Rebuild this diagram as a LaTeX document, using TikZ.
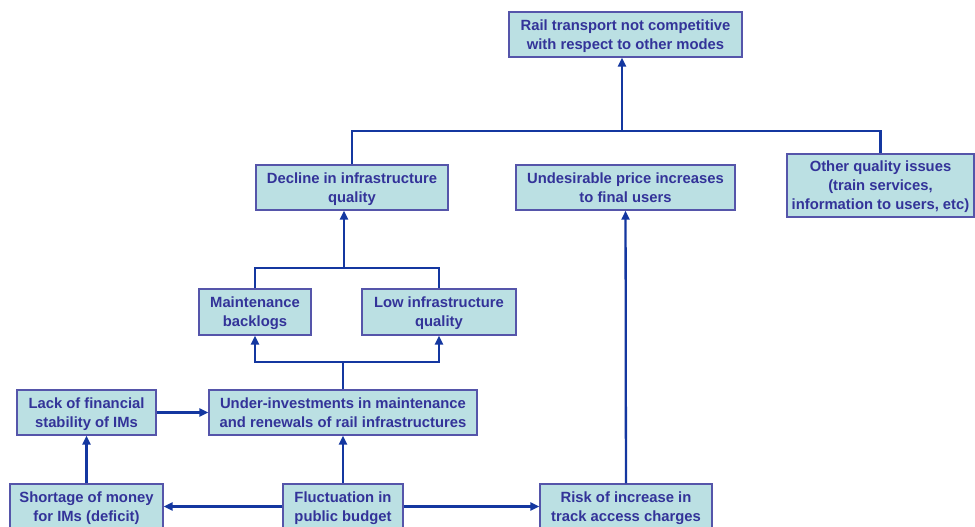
\documentclass[tikz,border=0pt]{standalone}
\usepackage{fontspec}
\setmainfont{Liberation Sans}
\usetikzlibrary{arrows.meta}
\definecolor{boxfill}{RGB}{187,224,227}
\definecolor{boxline}{RGB}{85,85,170}
\definecolor{boxtext}{RGB}{51,51,153}
\definecolor{linkblue}{RGB}{20,55,160}
\tikzset{
  cause/.style={draw=boxline,fill=boxfill,line width=1.3pt,align=center,
    text=boxtext,inner sep=0pt,text depth=0pt,
    font=\fontsize{14.8}{19}\selectfont\bfseries},
  link/.style={draw=linkblue,line width=2.3pt},
  arrow/.style={link,-{Triangle[length=9pt,width=8pt]}}
}
\begin{document}
\begin{tikzpicture}[x=1pt,y=-1pt]
  \useasboundingbox (0,0) rectangle (975,527);
  \clip (0,0) rectangle (975,527);

  \node[cause,minimum width=233pt,minimum height=45pt] (top) at (625.5,34.5) {Rail transport not competitive\\with respect to other modes};
  \node[cause,minimum width=192pt,minimum height=45pt] (decline) at (352,187.5) {Decline in infrastructure\\quality};
  \node[cause,minimum width=219pt,minimum height=45pt] (price) at (625.5,187.5) {Undesirable price increases\\to final users};
  \node[cause,minimum width=187pt,minimum height=63pt] (other) at (880.5,185.5) {Other quality issues\\(train services,\\information to users, etc)};
  \node[cause,minimum width=112pt,minimum height=46pt] (backlog) at (255,312) {Maintenance\\backlogs};
  \node[cause,minimum width=154pt,minimum height=46pt] (lowq) at (439,312) {Low infrastructure\\quality};
  \node[cause,minimum width=139pt,minimum height=45pt] (lack) at (86.5,412.5) {Lack of financial\\stability of IMs};
  \node[cause,minimum width=268pt,minimum height=45pt] (underinv) at (343,412.5) {Under-investments in maintenance\\and renewals of rail infrastructures};
  \node[cause,minimum width=153pt,minimum height=45pt] (shortage) at (86.5,506.5) {Shortage of money\\for IMs (deficit)};
  \node[cause,minimum width=120pt,minimum height=45pt] (budget) at (343,506.5) {Fluctuation in\\public budget};
  \node[cause,minimum width=172pt,minimum height=45pt] (risk) at (626,506.5) {Risk of increase in\\track access charges};

  % junctions of the bus lines
  \coordinate (topbus) at (622,131);
  \coordinate (midbus) at (344,268);
  \coordinate (lowbus) at (343,362);

  \draw[link] (decline.north) |- (topbus) -| (other.north);
  \draw[arrow] (topbus) -- (topbus |- top.south);
  \draw[arrow] (risk) -- (price);

  \draw[link] (backlog.north) |- (midbus) -| (lowq.north);
  \draw[arrow] (midbus) -- (midbus |- decline.south);

  \draw[link] (underinv.north) -- (lowbus);
  \draw[arrow] (lowbus) -| (backlog.south);
  \draw[arrow] (lowbus) -| (lowq.south);

  \draw[arrow] (lack) -- (underinv);
  \draw[arrow] (shortage) -- (lack);
  \draw[arrow] (budget) -- (underinv);
  \draw[arrow] (budget) -- (shortage);
  \draw[arrow] (budget) -- (risk);
\end{tikzpicture}
\end{document}
